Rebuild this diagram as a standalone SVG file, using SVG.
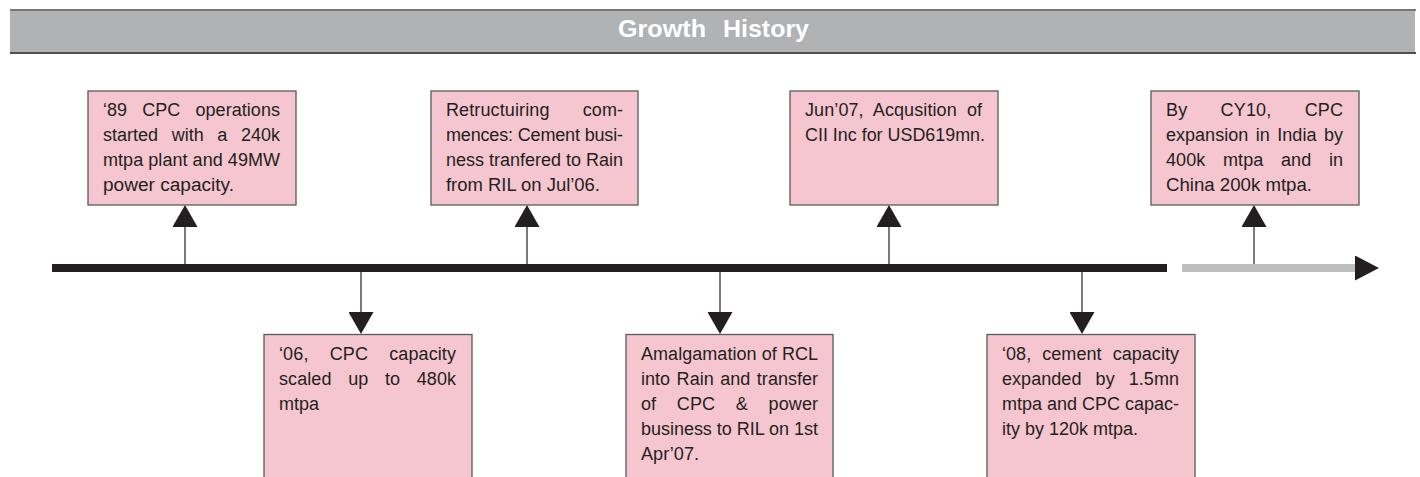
<svg xmlns="http://www.w3.org/2000/svg" width="1420" height="477" viewBox="0 0 1420 477">
<style>
.bx{fill:#F5C6D0;stroke:#5a5a5a;stroke-width:1.3}
.t{font-family:"Liberation Sans",Arial,sans-serif;font-size:18px;fill:#231F20}
.ttl{font-family:"Liberation Sans",Arial,sans-serif;font-size:23px;font-weight:bold;fill:#FFFFFF}
.cn{fill:none;stroke:#333333;stroke-width:1.3;marker-end:url(#tri)}
</style>
<defs>
<marker id="tri" viewBox="0 0 22 25" refX="0" refY="12.5" markerWidth="22" markerHeight="25" markerUnits="userSpaceOnUse" orient="auto">
<path d="M0,0 L22,12.5 L0,25 Z" fill="#231F20"/>
</marker>
<marker id="bigtri" viewBox="0 0 24 25" refX="0" refY="12.5" markerWidth="24" markerHeight="25" markerUnits="userSpaceOnUse" orient="auto">
<path d="M0,0 L24,12.5 L0,25 Z" fill="#231F20"/>
</marker>
</defs>

<g id="header">
<rect x="10" y="10" width="1405" height="42" fill="#B1B2B4"/>
<line x1="10" y1="10" x2="1416" y2="10" stroke="#767676" stroke-width="2"/>
<line x1="10" y1="53" x2="1416" y2="53" stroke="#4f4f4f" stroke-width="1.8"/>
<text class="ttl" x="618" y="37" textLength="88" lengthAdjust="spacingAndGlyphs">Growth</text>
<text class="ttl" x="723" y="37" textLength="86" lengthAdjust="spacingAndGlyphs">History</text>
</g>

<g id="timeline">
<rect x="52" y="264" width="1115" height="8" fill="#231F20"/>
<path d="M1182,268 H1355" stroke="#BDBEC0" stroke-width="8" fill="none" marker-end="url(#bigtri)"/>
</g>

<g id="connectors">
<path class="cn" d="M185,264 V227"/>
<path class="cn" d="M527,264 V227"/>
<path class="cn" d="M889,264 V227"/>
<path class="cn" d="M1254,264 V227"/>
<path class="cn" d="M361,272 V312"/>
<path class="cn" d="M720,272 V312"/>
<path class="cn" d="M1082,272 V312"/>
</g>

<g id="node-89">
<rect class="bx" x="88" y="91" width="208" height="114"/>
<text class="t" x="103" y="116" textLength="177" lengthAdjust="spacing" word-spacing="10">‘89 CPC operations</text>
<text class="t" x="103" y="141" textLength="177" lengthAdjust="spacing" word-spacing="8.6">started with a 240k</text>
<text class="t" x="103" y="166" textLength="177" lengthAdjust="spacing">mtpa plant and 49MW</text>
<text class="t" x="103" y="191" textLength="131" lengthAdjust="spacingAndGlyphs">power capacity.</text>
</g>

<g id="node-restructuring">
<rect class="bx" x="431" y="91" width="207" height="114"/>
<text class="t" x="446" y="116" textLength="177" lengthAdjust="spacing" word-spacing="28">Retructuiring com-</text>
<text class="t" x="446" y="141" textLength="177" lengthAdjust="spacing">mences: Cement busi-</text>
<text class="t" x="446" y="166" textLength="177" lengthAdjust="spacing">ness tranfered to Rain</text>
<text class="t" x="446" y="191" textLength="154" lengthAdjust="spacingAndGlyphs">from RIL on Jul’06.</text>
</g>

<g id="node-cii">
<rect class="bx" x="790" y="91" width="208" height="114"/>
<text class="t" x="805" y="116" textLength="177" lengthAdjust="spacing" word-spacing="5">Jun’07, Acqusition of</text>
<text class="t" x="805" y="141" textLength="180" lengthAdjust="spacingAndGlyphs">CII Inc for USD619mn.</text>
</g>

<g id="node-cy10">
<rect class="bx" x="1151" y="91" width="208" height="114"/>
<text class="t" x="1166" y="116" textLength="177" lengthAdjust="spacing" word-spacing="28">By CY10, CPC</text>
<text class="t" x="1166" y="141" textLength="177" lengthAdjust="spacing" word-spacing="2.5">expansion in India by</text>
<text class="t" x="1166" y="166" textLength="177" lengthAdjust="spacing" word-spacing="12.5">400k mtpa and in</text>
<text class="t" x="1166" y="191" textLength="146" lengthAdjust="spacingAndGlyphs">China 200k mtpa.</text>
</g>

<g id="node-06">
<rect class="bx" x="264" y="334.5" width="208" height="150"/>
<text class="t" x="279" y="360" textLength="177" lengthAdjust="spacing" word-spacing="16">‘06, CPC capacity</text>
<text class="t" x="279" y="385" textLength="177" lengthAdjust="spacing" word-spacing="11.5">scaled up to 480k</text>
<text class="t" x="279" y="410" textLength="40" lengthAdjust="spacingAndGlyphs">mtpa</text>
</g>

<g id="node-amalgamation">
<rect class="bx" x="626" y="334.5" width="207" height="150"/>
<text class="t" x="641" y="360" textLength="177" lengthAdjust="spacing">Amalgamation of RCL</text>
<text class="t" x="641" y="385" textLength="177" lengthAdjust="spacing" word-spacing="1.5">into Rain and transfer</text>
<text class="t" x="641" y="410" textLength="177" lengthAdjust="spacing" word-spacing="15.5">of CPC &amp; power</text>
<text class="t" x="641" y="435" textLength="177" lengthAdjust="spacing">business to RIL on 1st</text>
<text class="t" x="641" y="460" textLength="58" lengthAdjust="spacingAndGlyphs">Apr’07.</text>
</g>

<g id="node-08">
<rect class="bx" x="987" y="334.5" width="208" height="150"/>
<text class="t" x="1002" y="360" textLength="177" lengthAdjust="spacing" word-spacing="6">‘08, cement capacity</text>
<text class="t" x="1002" y="385" textLength="177" lengthAdjust="spacing" word-spacing="9">expanded by 1.5mn</text>
<text class="t" x="1002" y="410" textLength="177" lengthAdjust="spacing">mtpa and CPC capac-</text>
<text class="t" x="1002" y="435" textLength="136" lengthAdjust="spacingAndGlyphs">ity by 120k mtpa.</text>
</g>
</svg>
